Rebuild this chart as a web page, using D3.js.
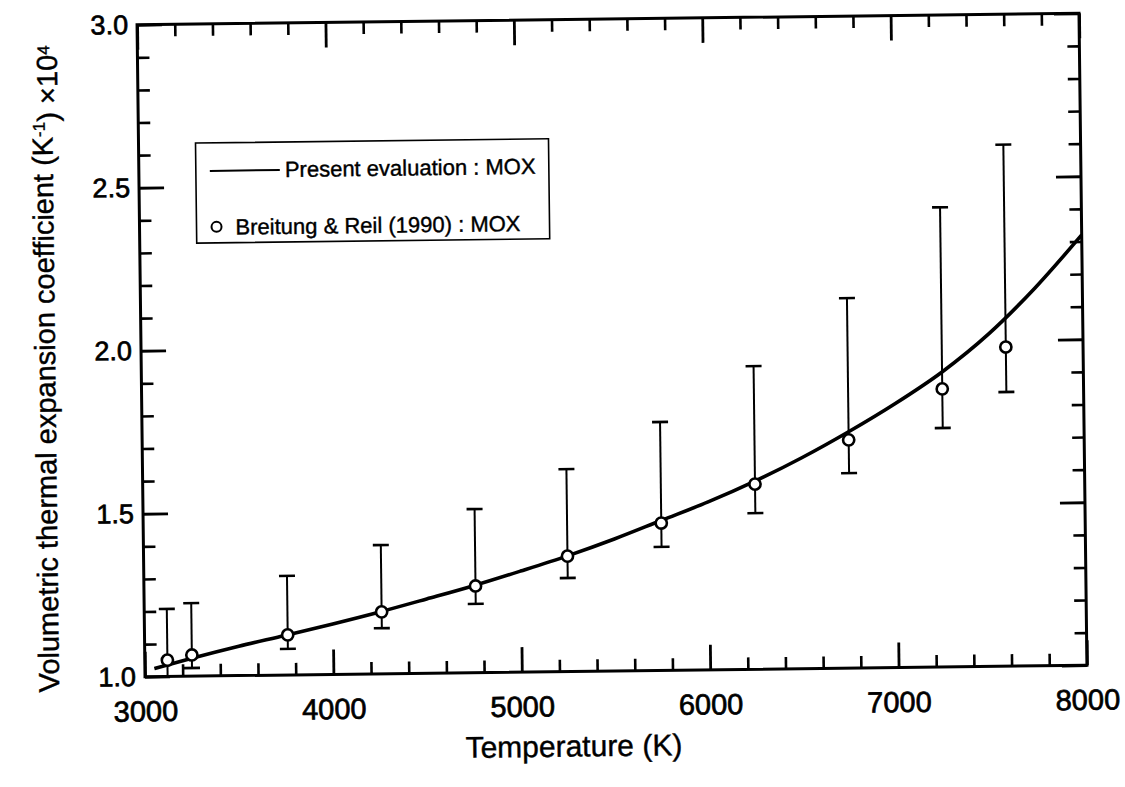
<!DOCTYPE html>
<html><head><meta charset="utf-8">
<script src="https://cdn.jsdelivr.net/npm/d3@7"></script>
<style>body{margin:0;background:#fff}svg{display:block}</style>
</head><body>
<svg id="c" width="1125" height="787"></svg>
<script>
// ---- data ----
const xTickValues = [3000, 4000, 5000, 6000, 7000, 8000];
const yTickValues = [1.0, 1.5, 2.0, 2.5, 3.0];
const xTickLabels = ["3000", "4000", "5000", "6000", "7000", "8000"];
const yTickLabels = ["1.0", "1.5", "2.0", "2.5", "3.0"];

// Present evaluation (solid curve)
const curveT = [3050, 3250, 3500, 3750, 4000, 4250, 4500, 4750, 5000, 5250, 5500, 5750, 6000, 6250, 6500, 6750, 7000, 7250, 7500, 7750, 8000];
const curveV = [1.025, 1.055, 1.09, 1.122, 1.155, 1.19, 1.228, 1.267, 1.31, 1.355, 1.405, 1.46, 1.515, 1.577, 1.647, 1.725, 1.81, 1.905, 2.02, 2.16, 2.32];

// Breitung & Reil (1990) points with error bars
const pointT = [3120, 3250, 3760, 4260, 4760, 5250, 5750, 6250, 6750, 7250, 7590];
const pointV = [1.05, 1.065, 1.123, 1.19, 1.266, 1.354, 1.452, 1.568, 1.70, 1.853, 1.979];
const errLow = [1.00, 1.025, 1.08, 1.14, 1.211, 1.287, 1.379, 1.479, 1.598, 1.733, 1.841];
const errHigh = [1.207, 1.224, 1.304, 1.395, 1.502, 1.621, 1.762, 1.93, 2.135, 2.41, 2.60];

const legendLabels = ["Present evaluation : MOX", "Breitung & Reil (1990) : MOX"];
const xTitle = "Temperature  (K)";

// ---- drawing ----
const FONT = "'Liberation Sans', Arial, Helvetica, sans-serif";
const M = {left: 141, right: 1083, top: 19, bottom: 671};
const x = d3.scaleLinear().domain([3000, 8000]).range([M.left, M.right]);
const y = d3.scaleLinear().domain([1, 3]).range([M.bottom, M.top]);

const svg = d3.select("#c");
svg.append("rect").attr("width", 1125).attr("height", 787).attr("fill", "#fff");
const g = svg.append("g").attr("transform", "rotate(-0.7,612,345)");

const xMinor = d3.range(3200, 8000, 200).filter(v => v % 1000 !== 0);
const yMinor = d3.range(11, 30).map(v => v / 10).filter(v => Math.round(v * 10) % 5 !== 0);

function styleAxis(sel, w) {
  sel.select(".domain").remove();
  sel.selectAll(".tick line").attr("stroke", "#000").attr("stroke-width", w);
}
function styleText(sel, size) {
  sel.selectAll("text").attr("font-family", FONT).attr("font-size", size)
    .attr("fill", "#000").attr("stroke", "#000").attr("stroke-width", 0.7);
}

// bottom
g.append("g").attr("transform", `translate(0,${M.bottom})`)
  .call(d3.axisBottom(x).tickValues(xMinor).tickSize(-12).tickFormat(""))
  .call(s => styleAxis(s, 2.6));
g.append("g").attr("transform", `translate(0,${M.bottom})`)
  .call(d3.axisBottom(x).tickValues(xTickValues).tickSize(-25).tickPadding(24)
    .tickFormat((d, i) => xTickLabels[i]))
  .call(s => styleAxis(s, 2.8))
  .call(s => styleText(s, 29));
// top
g.append("g").attr("transform", `translate(0,${M.top})`)
  .call(d3.axisTop(x).tickValues(xMinor).tickSize(-12).tickFormat(""))
  .call(s => styleAxis(s, 2.6));
g.append("g").attr("transform", `translate(0,${M.top})`)
  .call(d3.axisTop(x).tickValues(xTickValues).tickSize(-25).tickFormat(""))
  .call(s => styleAxis(s, 2.8));
// left
g.append("g").attr("transform", `translate(${M.left},0)`)
  .call(d3.axisLeft(y).tickValues(yMinor).tickSize(-12).tickFormat(""))
  .call(s => styleAxis(s, 2.6));
g.append("g").attr("transform", `translate(${M.left},0)`)
  .call(d3.axisLeft(y).tickValues(yTickValues).tickSize(-25).tickPadding(9)
    .tickFormat((d, i) => yTickLabels[i]))
  .call(s => styleAxis(s, 2.8))
  .call(s => styleText(s, 27));
// right
g.append("g").attr("transform", `translate(${M.right},0)`)
  .call(d3.axisRight(y).tickValues(yMinor).tickSize(-12).tickFormat(""))
  .call(s => styleAxis(s, 2.6));
g.append("g").attr("transform", `translate(${M.right},0)`)
  .call(d3.axisRight(y).tickValues(yTickValues).tickSize(-25).tickFormat(""))
  .call(s => styleAxis(s, 2.8));

// frame
g.append("rect").attr("x", M.left).attr("y", M.top)
  .attr("width", M.right - M.left).attr("height", M.bottom - M.top)
  .attr("fill", "none").attr("stroke", "#000").attr("stroke-width", 3);

// curve
const curveData = curveT.map((t, i) => [t, curveV[i]]);
g.append("path").datum(curveData)
  .attr("d", d3.line().x(d => x(d[0])).y(d => y(d[1])).curve(d3.curveMonotoneX))
  .attr("fill", "none").attr("stroke", "#000").attr("stroke-width", 3.6)
  .attr("stroke-linejoin", "round");

// error bars
const pts = pointT.map((t, i) => ({t, v: pointV[i], lo: errLow[i], hi: errHigh[i]}));
const eb = g.append("g").attr("stroke", "#000");
eb.selectAll("line.v").data(pts).join("line").attr("class", "v")
  .attr("x1", d => x(d.t)).attr("x2", d => x(d.t))
  .attr("y1", d => y(d.lo)).attr("y2", d => y(d.hi)).attr("stroke-width", 2);
eb.selectAll("line.hi").data(pts).join("line").attr("class", "hi")
  .attr("x1", d => x(d.t) - 8).attr("x2", d => x(d.t) + 8)
  .attr("y1", d => y(d.hi)).attr("y2", d => y(d.hi)).attr("stroke-width", 2.6);
eb.selectAll("line.lo").data(pts.filter(d => d.lo > 1.0)).join("line").attr("class", "lo")
  .attr("x1", d => x(d.t) - 8).attr("x2", d => x(d.t) + 8)
  .attr("y1", d => y(d.lo)).attr("y2", d => y(d.lo)).attr("stroke-width", 2.6);

// circles
g.append("g").selectAll("circle").data(pts).join("circle")
  .attr("cx", d => x(d.t)).attr("cy", d => y(d.v)).attr("r", 5.6)
  .attr("fill", "#fff").attr("stroke", "#000").attr("stroke-width", 2.6);

// legend
const lg = g.append("g");
const lt = lg.selectAll("text").data(legendLabels).join("text")
  .attr("x", (d, i) => i === 0 ? 287 : 237)
  .attr("y", (d, i) => i === 0 ? 173 : 230)
  .attr("font-family", FONT).attr("font-size", 22).attr("fill", "#000")
  .attr("stroke", "#000").attr("stroke-width", 0.4)
  .text(d => d);
let maxR = 0;
lt.each(function () { const b = this.getBBox(); maxR = Math.max(maxR, b.x + b.width); });
lg.insert("rect", "text").attr("x", 198).attr("y", 138).attr("width", maxR + 13 - 198).attr("height", 100)
  .attr("fill", "#fff").attr("stroke", "#000").attr("stroke-width", 1.6);
lg.append("line").attr("x1", 212).attr("x2", 282).attr("y1", 166).attr("y2", 166)
  .attr("stroke", "#000").attr("stroke-width", 2);
lg.append("circle").attr("cx", 218).attr("cy", 222).attr("r", 5)
  .attr("fill", "#fff").attr("stroke", "#000").attr("stroke-width", 2);

// x title
g.append("text").attr("x", 569).attr("y", 756).attr("text-anchor", "middle")
  .attr("font-family", FONT).attr("font-size", 30).attr("fill", "#000")
  .attr("stroke", "#000").attr("stroke-width", 0.4)
  .text(xTitle);

// y title
const yt = g.append("text").attr("transform", "translate(55,362) rotate(-90)")
  .attr("text-anchor", "middle").attr("font-family", FONT).attr("font-size", 29).attr("fill", "#000")
  .attr("stroke", "#000").attr("stroke-width", 0.4);
yt.append("tspan").text("Volumetric thermal expansion coefficient (K");
yt.append("tspan").attr("dy", "-0.45em").attr("font-size", 17).text("-1");
yt.append("tspan").attr("dy", "0.45em").text(") \u00d710");
yt.append("tspan").attr("dy", "-0.45em").attr("font-size", 17).text("4");
</script>
</body></html>
